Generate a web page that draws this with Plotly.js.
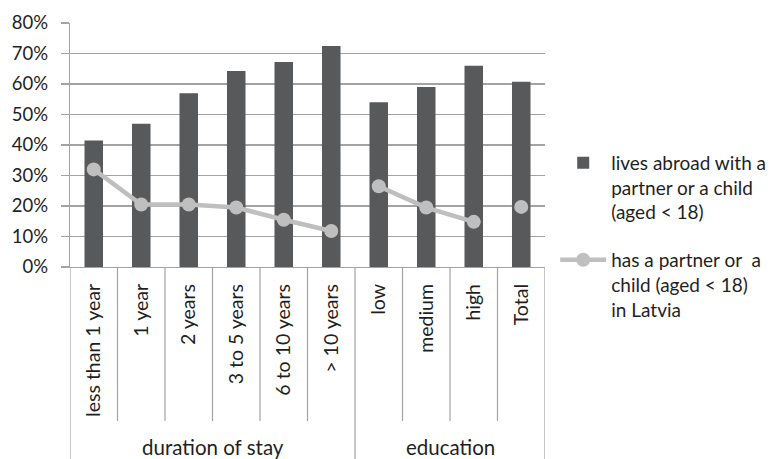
<!DOCTYPE html>
<html>
<head>
<meta charset="utf-8">
<script src="https://cdn.plot.ly/plotly-3.0.1.min.js"></script>
<style>html,body{margin:0;padding:0;background:#fff;}#chart{width:779px;height:459px;}</style>
</head>
<body>
<div id="chart"></div>
<script>
// ---- data ----
const categories = ['less than 1 year', '1 year', '2 years', '3 to 5 years', '6 to 10 years', '> 10 years', 'low', 'medium', 'high', 'Total'];
const groups = ['duration of stay', 'duration of stay', 'duration of stay', 'duration of stay', 'duration of stay', 'duration of stay', 'education', 'education', 'education', ''];
const livesAbroad = [0.415, 0.47, 0.57, 0.643, 0.672, 0.725, 0.54, 0.59, 0.66, 0.607];
const partnerInLatvia = [0.32, 0.205, 0.205, 0.195, 0.155, 0.118, 0.265, 0.195, 0.148, 0.197];
// line segments break where the group changes
const segments = ['duration of stay', 'duration of stay', 'duration of stay', 'duration of stay', 'duration of stay', 'duration of stay', 'education', 'education', 'education', 'Total'];
const seriesNames = ['lives abroad with a<br>partner or a child<br>(aged < 18)', 'has a partner or  a<br>child (aged < 18)<br>in Latvia'];

// ---- build line with gaps ----
const lx = [], ly = [];
for (let i = 0; i < categories.length; i++) {
  if (i > 0 && segments[i] !== segments[i - 1]) { lx.push(null); ly.push(null); }
  lx.push(categories[i]); ly.push(partnerInLatvia[i]);
}

const FONT = 'Lato, "Open Sans", sans-serif';
const TXT = '#1f1f1f';
const GRID = '#a3a3a3';

const traces = [
  {
    type: 'bar', x: categories, y: livesAbroad, name: seriesNames[0],
    marker: {color: '#58595b'}, width: 0.39, legendgroup: 'a', hoverinfo: 'skip'
  },
  {
    type: 'scatter', mode: 'lines+markers', x: lx, y: ly, name: seriesNames[1],
    connectgaps: false,
    line: {color: '#bfbfbf', width: 4.5},
    marker: {color: '#bfbfbf', size: 14},
    legendgroup: 'b', hoverinfo: 'skip'
  }
];

// ---- category dividers & group labels ----
const shapes = [];
const annotations = [];
const plotH = 459 - 23 - 192;
const yLow = -(421 - 267) / plotH;
const yBottom = -(459 - 267) / plotH - 0.05;
// group extents: non-empty group until next non-empty group
const gStarts = [];
for (let i = 0; i < groups.length; i++) {
  if (groups[i] !== '' && (i === 0 || groups[i] !== groups[i - 1])) gStarts.push(i);
}
const gEdges = new Set([-0.5, categories.length - 0.5]);
gStarts.forEach((s, k) => {
  const e = (k + 1 < gStarts.length ? gStarts[k + 1] : categories.length) - 1;
  gEdges.add(s - 0.5); gEdges.add(e + 0.5);
  annotations.push({
    xref: 'x', yref: 'paper', x: (s + e) / 2, y: -(447 - 267) / plotH,
    text: groups[s], showarrow: false, yanchor: 'middle', xanchor: 'center',
    font: {family: FONT, size: 20.5, color: TXT}
  });
});
for (let i = 0; i <= categories.length; i++) {
  const xb = i - 0.5;
  shapes.push({
    type: 'line', xref: 'x', yref: 'paper', x0: xb, x1: xb, y0: 0,
    y1: gEdges.has(xb) ? yBottom : yLow,
    line: {color: GRID, width: 1.2}, layer: 'above'
  });
}

const layout = {
  width: 779, height: 459,
  margin: {l: 70, r: 234, t: 23, b: 192, autoexpand: false},
  paper_bgcolor: '#fff', plot_bgcolor: '#fff',
  font: {family: FONT, size: 19, color: TXT},
  showlegend: true,
  legend: {
    x: 1.0215, xanchor: 'left', y: 0.505, yanchor: 'top',
    font: {family: FONT, size: 19, color: TXT},
    valign: 'top', itemwidth: 46, tracegroupgap: 20,
    bgcolor: 'rgba(0,0,0,0)'
  },
  xaxis: {
    type: 'category', categoryorder: 'array', categoryarray: categories,
    range: [-0.5, categories.length - 0.5],
    showgrid: false, zeroline: false, showline: true, linecolor: GRID, linewidth: 1.2,
    ticks: '', tickangle: -90, ticklabelstandoff: 8,
    tickfont: {family: FONT, size: 19.5, color: TXT},
    fixedrange: true
  },
  yaxis: {
    range: [0, 0.8], dtick: 0.1, tickformat: '.0%',
    showgrid: true, gridcolor: GRID, gridwidth: 1.2,
    zeroline: false, showline: true, linecolor: GRID, linewidth: 1.2,
    ticks: 'outside', ticklen: 8, tickcolor: GRID, tickwidth: 1.2,
    ticklabelstandoff: 9,
    tickfont: {family: FONT, size: 18.5, color: TXT},
    fixedrange: true
  },
  shapes: shapes,
  annotations: annotations
};

Plotly.newPlot('chart', traces, layout, {displayModeBar: false, staticPlot: true});
</script>
</body>
</html>
